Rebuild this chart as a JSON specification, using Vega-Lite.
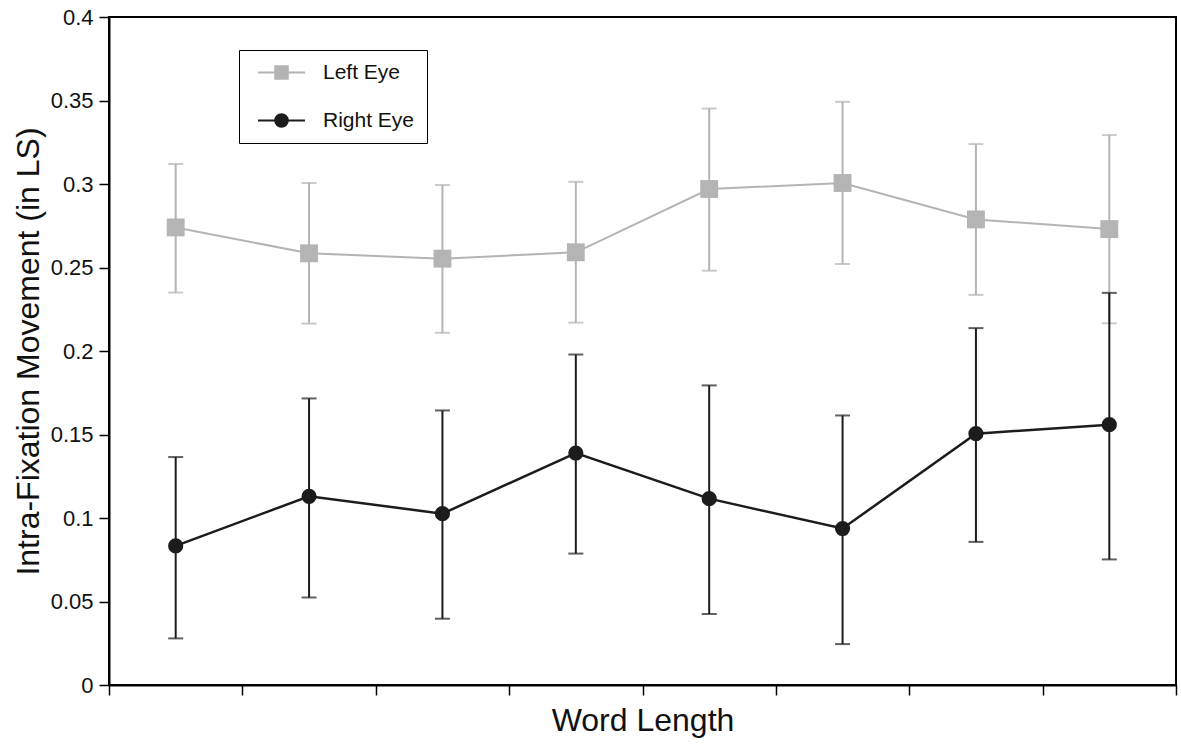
{
  "$schema": "https://vega.github.io/schema/vega-lite/v6.json",
  "width": 1067,
  "height": 668,
  "autosize": {"type": "none"},
  "padding": {"left": 109, "top": 17, "right": 5, "bottom": 60},
  "background": "white",
  "config": {
    "font": "Liberation Sans",
    "view": {"stroke": "#000", "strokeWidth": 2},
    "axis": {
      "domainColor": "#000",
      "domainWidth": 2,
      "tickColor": "#000",
      "tickWidth": 1.5,
      "labelColor": "#111",
      "titleColor": "#111",
      "grid": false,
      "labelFont": "Liberation Sans",
      "titleFont": "Liberation Sans",
      "titleFontWeight": "normal"
    },
    "legend": {
      "orient": "none",
      "legendX": 130,
      "legendY": 33,
      "padding": 12,
      "strokeColor": "#000",
      "fillColor": "#fff",
      "labelFontSize": 21,
      "labelColor": "#111",
      "labelFont": "Liberation Sans",
      "symbolSize": 196,
      "symbolStrokeWidth": 2,
      "symbolOffset": 20,
      "labelOffset": 31,
      "rowPadding": 26
    }
  },
  "datasets": {
    "eyes": [
      {"wl": 1, "eye": "Left Eye", "mean": 0.274, "hi": 0.312, "lo": 0.235},
      {"wl": 2, "eye": "Left Eye", "mean": 0.2585, "hi": 0.3006, "lo": 0.2164},
      {"wl": 3, "eye": "Left Eye", "mean": 0.2553, "hi": 0.2994, "lo": 0.2109},
      {"wl": 4, "eye": "Left Eye", "mean": 0.2591, "hi": 0.3013, "lo": 0.217},
      {"wl": 5, "eye": "Left Eye", "mean": 0.297, "hi": 0.3452, "lo": 0.2481},
      {"wl": 6, "eye": "Left Eye", "mean": 0.3006, "hi": 0.3492, "lo": 0.2521},
      {"wl": 7, "eye": "Left Eye", "mean": 0.2788, "hi": 0.3239, "lo": 0.2336},
      {"wl": 8, "eye": "Left Eye", "mean": 0.273, "hi": 0.3293, "lo": 0.2166},
      {"wl": 1, "eye": "Right Eye", "mean": 0.0833, "hi": 0.1365, "lo": 0.0279},
      {"wl": 2, "eye": "Right Eye", "mean": 0.113, "hi": 0.1716, "lo": 0.0524},
      {"wl": 3, "eye": "Right Eye", "mean": 0.1026, "hi": 0.1644, "lo": 0.0397},
      {"wl": 4, "eye": "Right Eye", "mean": 0.1389, "hi": 0.1979, "lo": 0.0787},
      {"wl": 5, "eye": "Right Eye", "mean": 0.1116, "hi": 0.1794, "lo": 0.0425},
      {"wl": 6, "eye": "Right Eye", "mean": 0.0937, "hi": 0.1614, "lo": 0.0245},
      {"wl": 7, "eye": "Right Eye", "mean": 0.1505, "hi": 0.2137, "lo": 0.0857},
      {"wl": 8, "eye": "Right Eye", "mean": 0.1559, "hi": 0.2348, "lo": 0.0752}
    ]
  },
  "data": {"name": "eyes"},
  "encoding": {
    "x": {
      "field": "wl",
      "type": "quantitative",
      "scale": {"domain": [0.5, 8.5], "nice": false, "zero": false},
      "axis": {
        "values": [0.5, 1.5, 2.5, 3.5, 4.5, 5.5, 6.5, 7.5, 8.5],
        "labels": false,
        "tickSize": 10,
        "title": "Word Length",
        "titleFontSize": 32,
        "titlePadding": 10
      }
    }
  },
  "layer": [
    {
      "transform": [{"filter": {"field": "eye", "equal": "Left Eye"}}],
      "mark": {"type": "rule", "strokeWidth": 2, "color": "#b4b4b4"},
      "encoding": {
        "y": {
          "field": "lo",
          "type": "quantitative",
          "title": "Intra-Fixation Movement (in LS)",
          "scale": {"domain": [0, 0.4], "nice": false, "zero": true},
          "axis": {
            "values": [0, 0.05, 0.1, 0.15, 0.2, 0.25, 0.3, 0.35, 0.4],
            "format": "~g",
            "labelFontSize": 22,
            "labelPadding": 6,
            "tickSize": 10,
            "titleFontSize": 32,
            "titlePadding": 5
          }
        },
        "y2": {"field": "hi"}
      }
    },
    {
      "transform": [{"filter": {"field": "eye", "equal": "Left Eye"}}, {"fold": ["lo", "hi"], "as": ["end", "val"]}],
      "mark": {"type": "tick", "orient": "horizontal", "size": 15, "thickness": 2, "color": "#b4b4b4"},
      "encoding": {"y": {"field": "val", "type": "quantitative", "title": "Intra-Fixation Movement (in LS)"}}
    },
    {
      "transform": [{"filter": {"field": "eye", "equal": "Left Eye"}}],
      "mark": {"type": "line", "strokeWidth": 2, "color": "#b4b4b4"},
      "encoding": {"y": {"field": "mean", "type": "quantitative", "title": "Intra-Fixation Movement (in LS)"}}
    },
    {
      "transform": [{"filter": {"field": "eye", "equal": "Left Eye"}}],
      "mark": {"type": "point", "shape": "square", "filled": true, "size": 320, "opacity": 1, "color": "#b4b4b4"},
      "encoding": {"y": {"field": "mean", "type": "quantitative", "title": "Intra-Fixation Movement (in LS)"}}
    },
    {
      "transform": [{"filter": {"field": "eye", "equal": "Right Eye"}}],
      "mark": {"type": "rule", "strokeWidth": 2, "color": "#1c1c1c"},
      "encoding": {
        "y": {"field": "lo", "type": "quantitative", "title": "Intra-Fixation Movement (in LS)"},
        "y2": {"field": "hi"}
      }
    },
    {
      "transform": [{"filter": {"field": "eye", "equal": "Right Eye"}}, {"fold": ["lo", "hi"], "as": ["end", "val"]}],
      "mark": {"type": "tick", "orient": "horizontal", "size": 15, "thickness": 2, "color": "#1c1c1c"},
      "encoding": {"y": {"field": "val", "type": "quantitative", "title": "Intra-Fixation Movement (in LS)"}}
    },
    {
      "transform": [{"filter": {"field": "eye", "equal": "Right Eye"}}],
      "mark": {"type": "line", "strokeWidth": 2.5, "color": "#1c1c1c"},
      "encoding": {"y": {"field": "mean", "type": "quantitative", "title": "Intra-Fixation Movement (in LS)"}}
    },
    {
      "transform": [{"filter": {"field": "eye", "equal": "Right Eye"}}],
      "mark": {"type": "point", "shape": "circle", "filled": true, "size": 230, "opacity": 1, "color": "#1c1c1c"},
      "encoding": {"y": {"field": "mean", "type": "quantitative", "title": "Intra-Fixation Movement (in LS)"}}
    },
    {
      "mark": {"type": "point", "size": 0, "strokeWidth": 2, "filled": true, "opacity": 1},
      "encoding": {
        "y": {"field": "mean", "type": "quantitative", "title": "Intra-Fixation Movement (in LS)"},
        "color": {
          "field": "eye",
          "type": "nominal",
          "title": null,
          "scale": {"domain": ["Left Eye", "Right Eye"], "range": ["#b4b4b4", "#1c1c1c"]}
        },
        "stroke": {
          "field": "eye",
          "type": "nominal",
          "title": null,
          "scale": {"domain": ["Left Eye", "Right Eye"], "range": ["#b4b4b4", "#1c1c1c"]}
        },
        "shape": {
          "field": "eye",
          "type": "nominal",
          "title": null,
          "scale": {
            "domain": ["Left Eye", "Right Eye"],
            "range": ["M-3.36,0H3.36M-0.9,-0.9H0.9V0.9H-0.9Z", "M-3.36,0H3.36M-0.9,0A0.9,0.9,0,1,0,0.9,0A0.9,0.9,0,1,0,-0.9,0Z"]
          },
          "legend": {
            "labelExpr": "datum.label + '\u00a0\u00a0\u00a0\u00a0'"
          }
        }
      }
    }
  ]
}
